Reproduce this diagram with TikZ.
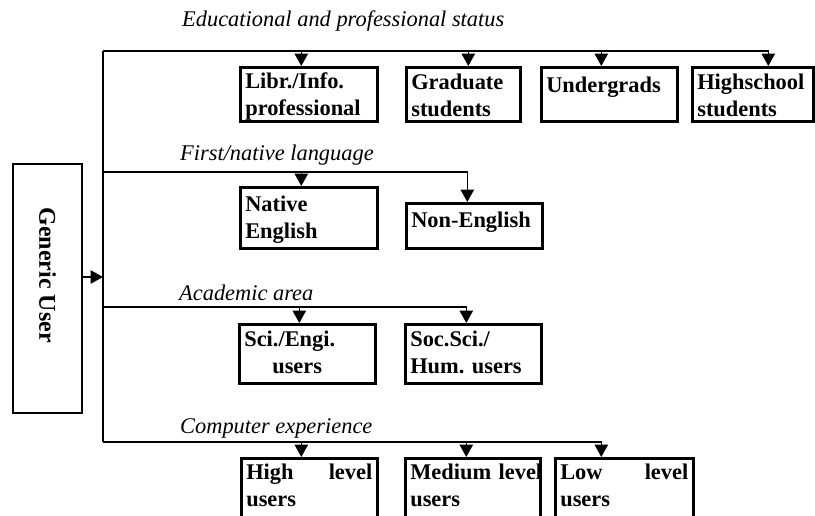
\documentclass[tikz,border=0pt]{standalone}
\usepackage{fontspec}
\setmainfont{Liberation Serif}
\usetikzlibrary{arrows.meta}
\frenchspacing
\begin{document}
\begin{tikzpicture}[x=1pt,y=-1pt,
  conn/.style={line width=1.3pt},
  arr/.style={conn,-{Triangle[length=12.5pt,width=13.5pt]}},
  catbox/.style={draw,line width=2.6pt,anchor=north west,inner xsep=5pt,inner ysep=0pt,
    align=left,font=\bfseries\fontsize{22.4}{27}\selectfont},
  cat/.style={anchor=base west,inner sep=0pt,font=\itshape\fontsize{22.4}{27}\selectfont},
  genbox/.style={draw,line width=1.6pt,rotate=-90,minimum width=249pt,minimum height=69pt,
    inner sep=0pt,font=\bfseries\fontsize{24}{27}\selectfont}]
\useasboundingbox (0,0) rectangle (815,515);
\clip (0,0) rectangle (815,515);

% generic user
\node[genbox] (gen) at (47.5,288.5) {Generic User\hspace*{27pt}};

% trunk coordinates
\coordinate (t1) at (103,51);
\coordinate (t2) at (103,172);
\coordinate (t3) at (103,307);
\coordinate (t4) at (103,442);
\coordinate (tg) at (103,277);

% category labels
\node[cat] (l1) at (182,26) {Educational and professional status};
\node[cat] (l2) at (180,160) {First/native language};
\node[cat] (l3) at (179,300) {Academic area};
\node[cat] (l4) at (180,433) {Computer experience};

% row 1
\node[catbox,text width=127pt,text height=21pt,text depth=33pt] (libr) at (239,66) {Libr./Info.\\professional};
\node[catbox,text width=104pt,text height=22pt,text depth=32pt] (grad) at (405,66) {Graduate\\students};
\node[catbox,text width=126pt,text height=25pt,text depth=29pt] (under) at (540,66) {Undergrads};
\node[catbox,text width=111pt,text height=22pt,text depth=32pt] (high) at (691,66) {Highschool\\students};

% row 2
\node[catbox,text width=127pt,text height=24pt,text depth=37pt] (nat) at (239,186) {Native\\English};
\node[catbox,text width=126pt,text height=24pt,text depth=21pt] (non) at (405,202) {Non-English};

% row 3
\node[catbox,text width=126pt,text height=22pt,text depth=37pt] (sci) at (238,323) {Sci./Engi.\\\hspace*{28pt}users};
\node[catbox,text width=126pt,text height=22pt,text depth=37pt] (soc) at (404,323) {Soc.Sci./\\Hum. users};

% row 4
\node[catbox,text width=126pt,text height=21pt,text depth=69pt] (hl) at (240,457) {High\hfill{} level\hspace*{-5pt}\\users};
\node[catbox,text width=125pt,text height=21pt,text depth=69pt] (ml) at (404,457) {\mbox{Medium level}\\users};
\node[catbox,text width=128pt,text height=21pt,text depth=69pt] (ll) at (554,457) {Low\hfill{} level\hspace*{-5pt}\\users};

% connectors
\draw[conn] (t1) -- (t4);
\draw[arr] (gen.north |- tg) -- (tg);

\draw[arr] (t1) -| ([xshift=-7.5pt]libr.north);
\draw[arr] (t1) -| ([xshift=5pt]grad.north);
\draw[arr] (t1) -| ([xshift=-8pt]under.north);
\draw[arr] (t1) -| ([xshift=15.5pt]high.north);

\draw[arr] (t2) -| ([xshift=-7.5pt]nat.north);
\draw[arr] (t2) -| ([xshift=-7pt]non.north);

\draw[arr] (t3) -| ([xshift=-8pt]sci.north);
\draw[arr] (t3) -| ([xshift=-7pt]soc.north);

\draw[arr] (t4) -| ([xshift=-8pt]hl.north);
\draw[arr] (t4) -| ([xshift=-6.5pt]ml.north);
\draw[arr] (t4) -| ([xshift=-23pt]ll.north);
\end{tikzpicture}
\end{document}
